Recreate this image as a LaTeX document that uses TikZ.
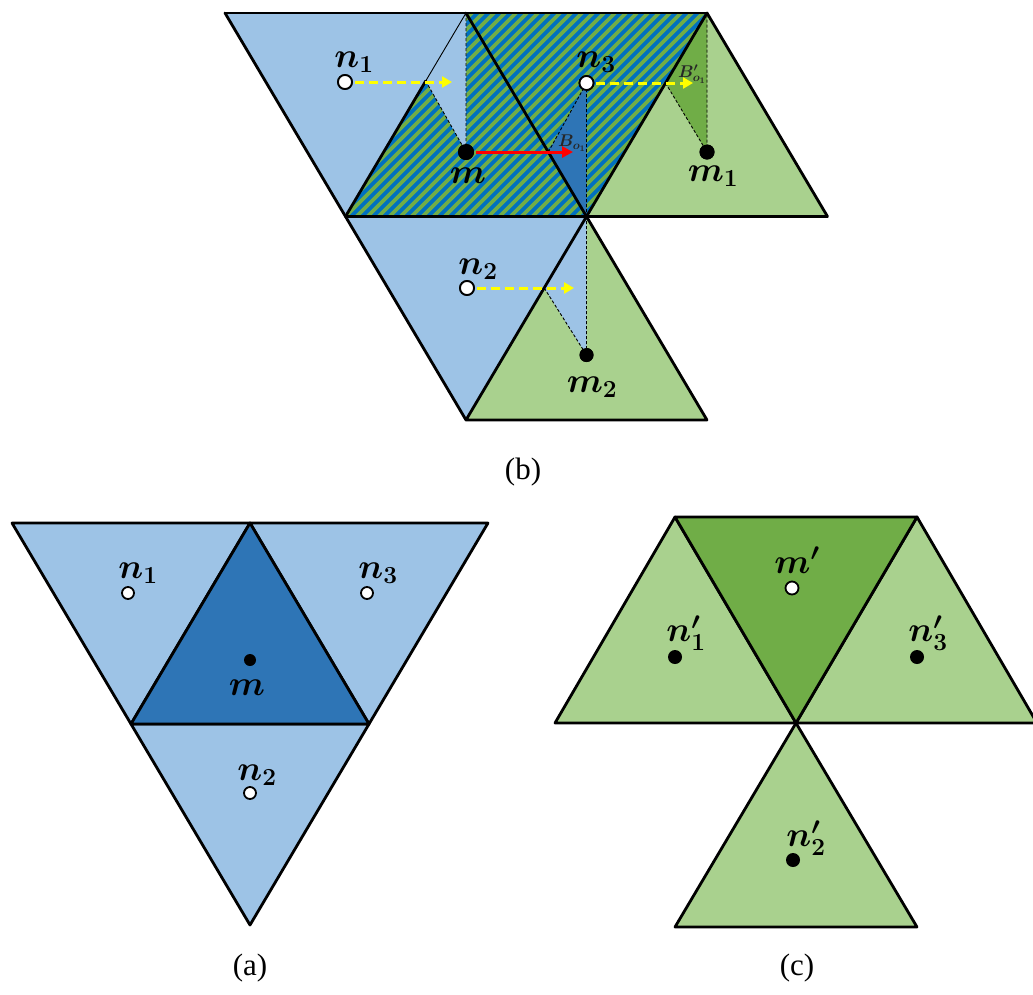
\RequirePackage{fix-cm}
\documentclass[tikz,border=0pt]{standalone}
\usepackage{fontspec}
\setmainfont{Liberation Serif}
\usepackage{amsmath,bm}
\usetikzlibrary{arrows.meta}
\definecolor{lblue}{HTML}{9DC3E6}
\definecolor{dblue}{HTML}{2E75B6}
\definecolor{lgreen}{HTML}{A9D18E}
\definecolor{dgreen}{HTML}{70AD47}
\definecolor{hblue}{HTML}{0070C0}
\definecolor{hgreen}{HTML}{70AD47}
\definecolor{ylw}{HTML}{FFFF00}
\definecolor{rd}{HTML}{FF0000}
\begin{document}
\begin{tikzpicture}[x=1pt,y=-1pt,
  edgeline/.style={line width=2.8pt, line join=round, line cap=round},
  thinedge/.style={line width=0.9pt},
  guideline/.style={line width=0.9pt, dash pattern=on 3pt off 2pt},
  wdot/.style={circle, draw=black, fill=white, line width=1.8pt, minimum size=#1, inner sep=0pt},
  bdot/.style={circle, fill=black, minimum size=#1, inner sep=0pt},
  lbl/.style={inner sep=0pt, font=\fontsize{35}{40}\selectfont},
  smalllbl/.style={inner sep=0pt, font=\fontsize{17}{19}\selectfont, text=black!85},
  captext/.style={inner sep=0pt, font=\fontsize{31}{34}\selectfont},
  yarrow/.style={ylw, line width=3pt, dash pattern=on 9pt off 5pt, -{Triangle[length=10pt,width=11pt]}, shorten <=2pt},
  rarrow/.style={rd, line width=3pt, -{Triangle[length=11pt,width=11pt]}, shorten <=2pt}
]
\useasboundingbox (0,0) rectangle (1033,994);

% ---------------- panel (b): the two meshes laid over each other
\coordinate (A) at (225,13);
\coordinate (B) at (466,13);
\coordinate (C) at (707,13);
\coordinate (D) at (345.5,216.5);
\coordinate (E) at (586.5,216.5);
\coordinate (F) at (827.5,216.5);
\coordinate (G) at (466,420);
\coordinate (H) at (707,420);

\fill[lblue] (A) -- (B) -- (D) -- cycle;
\fill[lblue] (D) -- (E) -- (G) -- cycle;
\fill[lgreen] (E) -- (C) -- (F) -- cycle;
\fill[lgreen] (E) -- (G) -- (H) -- cycle;

% overlap of both meshes: blue/green stripes
\begin{scope}
  \clip (D) -- (E) -- (C) -- (B) -- cycle;
  \fill[hblue] (D) -- (E) -- (C) -- (B) -- cycle;
  \foreach \k in {80,91,...,730}
    \draw[hgreen, line width=3.8pt] (\k,240) -- ++(260,-260);
\end{scope}

% point positions
\node[bdot=16pt] (m)  at (466,152) {};
\node[wdot=14pt] (n1) at (345,82) {};
\node[wdot=14pt] (n3) at (586.5,83) {};
\node[bdot=15pt] (m1) at (707,152) {};
\node[wdot=14pt] (n2) at (467,288) {};
\node[bdot=14pt] (m2) at (586.5,355) {};

\coordinate (p1)  at (425.7,81);
\coordinate (p3)  at (548.3,152);
\coordinate (pm1) at (665.5,83);
\coordinate (pm2) at (544.2,288);

% sub-regions B_o
\fill[lblue] (B) -- (p1) -- (m.center) -- cycle;
\fill[dblue] (n3.center) -- (p3) -- (E) -- cycle;
\fill[dgreen] (C) -- (pm1) -- (m1.center) -- cycle;
\fill[lblue] (E) -- (pm2) -- (m2.center) -- cycle;

% guide lines
\draw[guideline] (p1) -- (m.center) (B) -- (m.center);
\draw[guideline] (p3) -- (n3.center) -- (E);
\draw[guideline] (pm1) -- (m1.center) -- (C);
\draw[guideline] (pm2) -- (m2.center) -- (E);
\draw[thinedge] (B) -- (p1);

% triangle edges
\draw[edgeline] (A) -- (C);
\draw[edgeline] (A) -- (D) -- (G) -- (H) -- (E) -- (G);
\draw[edgeline] (D) -- (F) -- (C) -- (E);
\draw[edgeline] (D) -- (p1);
\draw[edgeline] (B) -- (E);

% redraw points on top
\node[bdot=16pt] at (m) {};
\node[wdot=14pt] at (n1) {};
\node[wdot=14pt] at (n3) {};
\node[bdot=15pt] at (m1) {};
\node[wdot=14pt] at (n2) {};
\node[bdot=14pt] at (m2) {};

% displacement arrows
\coordinate (t1) at (452,82);
\coordinate (t3) at (693,83);
\coordinate (t2) at (574,288);
\coordinate (tr) at (573,152);
\draw[yarrow] (n1) -- (t1);
\draw[yarrow] (n3) -- (t3);
\draw[yarrow] (n2) -- (t2);
\draw[rarrow] (m) -- (tr);

% labels
\node[lbl] (ln1) at (354,62) {$\bm{n_1}$};
\node[lbl] (ln3) at (596,62) {$\bm{n_3}$};
\node[lbl] (lm)  at (468,176) {$\bm{m}$};
\node[lbl] (lm1) at (713,176) {$\bm{m_1}$};
\node[lbl] (ln2) at (478,269) {$\bm{n_2}$};
\node[lbl] (lm2) at (592,387) {$\bm{m_2}$};
\node[smalllbl] (lb)  at (572,143) {$\bm{B_{o_1}}$};
\node[smalllbl] (lb2) at (692,74) {$\bm{B'_{o_1}}$};

\node[captext] (capb) at (523,472) {(b)};

% ---------------- panel (a): blue mesh
\coordinate (a1) at (12,523);
\coordinate (a2) at (250,523);
\coordinate (a3) at (488,523);
\coordinate (a4) at (131,724);
\coordinate (a5) at (369,724);
\coordinate (a6) at (250,925);
\filldraw[edgeline, fill=lblue] (a1) -- (a2) -- (a4) -- cycle;
\filldraw[edgeline, fill=lblue] (a2) -- (a3) -- (a5) -- cycle;
\filldraw[edgeline, fill=lblue] (a4) -- (a5) -- (a6) -- cycle;
\filldraw[edgeline, fill=dblue] (a4) -- (a5) -- (a2) -- cycle;

\node[wdot=12pt] (an1) at (128,593) {};
\node[wdot=12pt] (an3) at (367,593) {};
\node[bdot=12pt] (am)  at (250,660) {};
\node[wdot=12pt] (an2) at (250,793) {};
\node[lbl] (lan1) at (138,573) {$\bm{n_1}$};
\node[lbl] (lan3) at (378,573) {$\bm{n_3}$};
\node[lbl] (lam)  at (247,688) {$\bm{m}$};
\node[lbl] (lan2) at (257,775) {$\bm{n_2}$};

\node[captext] (capa) at (250,968) {(a)};

% ---------------- panel (c): green mesh
\coordinate (c1) at (675,517);
\coordinate (c2) at (917,517);
\coordinate (c3) at (555,723);
\coordinate (c4) at (796,723);
\coordinate (c5) at (1037,723);
\coordinate (c6) at (675,927);
\coordinate (c7) at (917,927);
\filldraw[edgeline, fill=lgreen] (c3) -- (c4) -- (c1) -- cycle;
\filldraw[edgeline, fill=lgreen] (c4) -- (c5) -- (c2) -- cycle;
\filldraw[edgeline, fill=lgreen] (c4) -- (c6) -- (c7) -- cycle;
\filldraw[edgeline, fill=dgreen] (c1) -- (c2) -- (c4) -- cycle;

\node[wdot=13pt] (cm)  at (792,588) {};
\node[bdot=14pt] (cn1) at (675,657) {};
\node[bdot=14pt] (cn3) at (917,657) {};
\node[bdot=14pt] (cn2) at (793,860) {};
\node[lbl] (lcm)  at (797,560) {$\bm{m'}$};
\node[lbl] (lcn1) at (686,633) {$\bm{n'_1}$};
\node[lbl] (lcn3) at (928,633) {$\bm{n'_3}$};
\node[lbl] (lcn2) at (806,838) {$\bm{n'_2}$};

\node[captext] (capc) at (797,968) {(c)};
\end{tikzpicture}
\end{document}
